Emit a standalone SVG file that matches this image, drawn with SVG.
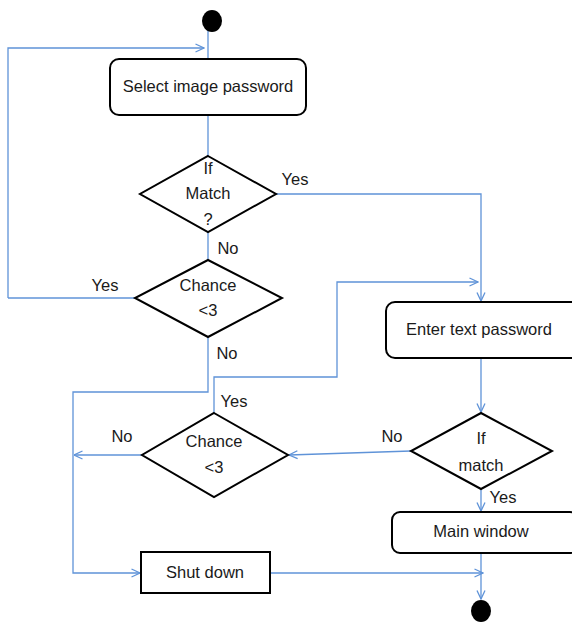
<svg xmlns="http://www.w3.org/2000/svg" width="572" height="622" viewBox="0 0 572 622">
  <style>
    .node { fill: #ffffff; stroke: #000000; stroke-width: 2; }
    .term { fill: #000000; }
    .edge { fill: none; stroke: #5f93d8; stroke-width: 1.3; }
    text { font-family: "Liberation Sans", Arial, sans-serif; font-size: 16.5px; fill: #1a1a1a; text-anchor: middle; dominant-baseline: middle; }
  </style>
  <defs>
    <marker id="arrow" viewBox="0 0 10 10" refX="9.5" refY="5" markerWidth="10" markerHeight="10" markerUnits="userSpaceOnUse" orient="auto">
      <path d="M1,1 L9.5,5 L1,9" fill="none" stroke="#5f93d8" stroke-width="1.3"/>
    </marker>
  </defs>

  <rect width="572" height="622" fill="#ffffff"/>

  <!-- connectors -->
  <g id="connectors">
    <path class="edge" d="M208,30 V59"/>
    <path class="edge" d="M8,298 V48 H204" marker-end="url(#arrow)"/>
    <path class="edge" d="M135,298 H8"/>
    <path class="edge" d="M208,115 V156"/>
    <path class="edge" d="M208,232 V260"/>
    <path class="edge" d="M276,194 H481 V301" marker-end="url(#arrow)"/>
    <path class="edge" d="M214,413 V377 H337 V282 H478" marker-end="url(#arrow)"/>
    <path class="edge" d="M481,358 V412" marker-end="url(#arrow)"/>
    <path class="edge" d="M411,451 L289,455" marker-end="url(#arrow)"/>
    <path class="edge" d="M142,455 H74" marker-end="url(#arrow)"/>
    <path class="edge" d="M208,337 V392 H73 V573 H140" marker-end="url(#arrow)"/>
    <path class="edge" d="M481,489 V511" marker-end="url(#arrow)"/>
    <path class="edge" d="M481,553 V599" marker-end="url(#arrow)"/>
    <path class="edge" d="M270,573 H483" marker-end="url(#arrow)"/>
  </g>

  <!-- edge labels -->
  <g id="labels">
    <text x="295" y="181">Yes</text>
    <text x="228" y="250">No</text>
    <text x="105" y="287">Yes</text>
    <text x="227" y="355">No</text>
    <text x="234" y="403">Yes</text>
    <text x="122" y="438">No</text>
    <text x="392" y="438">No</text>
    <text x="503" y="499">Yes</text>
  </g>

  <g id="start">
    <ellipse class="term" cx="212" cy="21" rx="10" ry="11"/>
  </g>

  <g id="select-image">
    <rect class="node" x="110" y="59" width="196" height="56" rx="9"/>
    <text x="208" y="88">Select image password</text>
  </g>

  <g id="if-match-1">
    <polygon class="node" points="208,156 276,194 208,232 140,194"/>
    <text x="208" y="170">If</text>
    <text x="208" y="195">Match</text>
    <text x="208" y="221">?</text>
  </g>

  <g id="chance-1">
    <polygon class="node" points="208,260 282,298 208,337 135,298"/>
    <text x="208" y="287">Chance</text>
    <text x="208" y="312">&lt;3</text>
  </g>

  <g id="enter-text">
    <rect class="node" x="386" y="302" width="196" height="56" rx="9"/>
    <text x="479" y="331">Enter text password</text>
  </g>

  <g id="if-match-2">
    <polygon class="node" points="481,413 552,451 481,489 411,451"/>
    <text x="481" y="440">If</text>
    <text x="481" y="467">match</text>
  </g>

  <g id="chance-2">
    <polygon class="node" points="214,413 288,455 214,497 142,455"/>
    <text x="214" y="443">Chance</text>
    <text x="214" y="469">&lt;3</text>
  </g>

  <g id="main-window">
    <rect class="node" x="392" y="512" width="186" height="41" rx="8"/>
    <text x="481" y="533">Main window</text>
  </g>

  <g id="shut-down">
    <rect class="node" x="141" y="552" width="129" height="41"/>
    <text x="205" y="574">Shut down</text>
  </g>

  <g id="end">
    <ellipse class="term" cx="481" cy="611" rx="10" ry="11"/>
  </g>
</svg>
